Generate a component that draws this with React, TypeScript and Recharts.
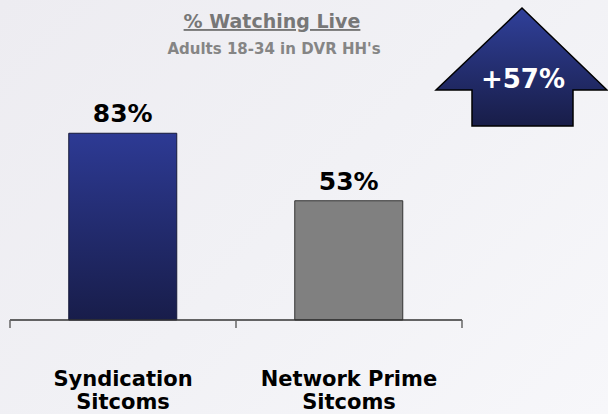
import React from "react";
import { BarChart, Bar, Cell, XAxis, YAxis, LabelList } from "recharts";

const categories = ["Syndication\nSitcoms", "Network Prime\nSitcoms"];
const watchingLive = [83, 53];
const changeLabel = "+57%";

const data = categories.map((name, i) => ({ name, value: watchingLive[i] }));

const FONT = "'DejaVu Sans', Verdana, sans-serif";
const fills = ["url(#navyBar)", "#808080"];
const strokes = ["#161a3a", "#333333"];

// category label plus the boundary tick marks either side of the band
function CategoryTick(props: any) {
  const { x, y, payload, index, visibleTicksCount, width } = props;
  const half =
    payload && payload.offset ? payload.offset : width / (visibleTicksCount || 2) / 2;
  const lines = String(payload.value).split("\n");
  const last = index === (visibleTicksCount || categories.length) - 1;
  return (
    <g>
      <line x1={x - half} x2={x - half} y1={y} y2={y + 8} stroke="#666" strokeWidth={1.5} />
      {last && (
        <line x1={x + half} x2={x + half} y1={y} y2={y + 8} stroke="#666" strokeWidth={1.5} />
      )}
      <text
        x={x}
        y={y}
        textAnchor="middle"
        fill="#000"
        fontFamily={FONT}
        fontWeight="bold"
        fontSize={21}
      >
        {lines.map((l, i) => (
          <tspan key={i} x={x} y={y + 66 + i * 23}>
            {l}
          </tspan>
        ))}
      </text>
    </g>
  );
}

export default function App() {
  return (
    <div
      style={{
        position: "fixed",
        left: 0,
        top: 0,
        width: 608,
        height: 414,
        background: "linear-gradient(135deg, #edecf1 0%, #f1f1f5 50%, #f7f7fa 100%)",
        overflow: "hidden",
      }}
    >
      <BarChart
        width={608}
        height={414}
        data={data}
        margin={{ top: 95, right: 146, left: 10, bottom: 0 }}
        barCategoryGap="26%"
      >
        <defs>
          <linearGradient id="navyBar" x1="0" y1="0" x2="0" y2="1">
            <stop offset="0%" stopColor="#2d3a94" />
            <stop offset="100%" stopColor="#181d4a" />
          </linearGradient>
        </defs>
        <YAxis hide domain={[0, 100]} />
        <XAxis
          dataKey="name"
          height={94}
          axisLine={{ stroke: "#333", strokeWidth: 1.5 }}
          tickLine={false}
          tickSize={0}
          tickMargin={0}
          interval={0}
          tick={<CategoryTick />}
        />
        <Bar dataKey="value" isAnimationActive={false}>
          {data.map((d, i) => (
            <Cell key={d.name} fill={fills[i]} stroke={strokes[i]} strokeWidth={1} />
          ))}
          <LabelList
            dataKey="value"
            position="top"
            offset={11}
            formatter={(v: any) => `${v}%`}
            fill="#000"
            fontFamily={FONT}
            fontWeight="bold"
            fontSize={25}
          />
        </Bar>
      </BarChart>
      <svg
        width={608}
        height={414}
        style={{ position: "absolute", left: 0, top: 0, pointerEvents: "none" }}
      >
        <defs>
          <linearGradient id="navyArrow" x1="0" y1="0" x2="0" y2="1">
            <stop offset="0%" stopColor="#30409a" />
            <stop offset="100%" stopColor="#181d48" />
          </linearGradient>
        </defs>
        <text
          x={272}
          y={28}
          textAnchor="middle"
          fontFamily={FONT}
          fontWeight="bold"
          fontSize={19}
          fill="#777"
          textDecoration="underline"
        >
          % Watching Live
        </text>
        <text
          x={274}
          y={54}
          textAnchor="middle"
          fontFamily={FONT}
          fontWeight="bold"
          fontSize={15}
          fill="#858585"
        >
          Adults 18-34 in DVR HH's
        </text>
        <polygon
          points="522,8 607,90 573,90 573,126 472,126 472,90 436,90"
          fill="url(#navyArrow)"
          stroke="#000"
          strokeWidth={1.5}
        />
        <text
          x={523}
          y={88}
          textAnchor="middle"
          fontFamily={FONT}
          fontWeight="bold"
          fontSize={26}
          fill="#fff"
        >
          {changeLabel}
        </text>
      </svg>
    </div>
  );
}
